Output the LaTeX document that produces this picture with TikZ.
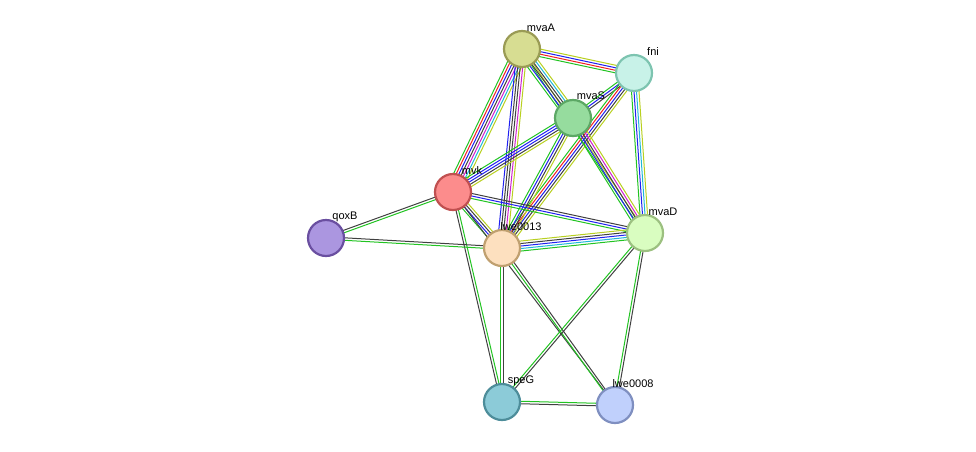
\documentclass[tikz,border=0pt]{standalone}
\usepackage{fontspec}
\setmainfont{Liberation Sans}
\usetikzlibrary{calc,backgrounds}
\definecolor{egreen}{HTML}{22C322}
\definecolor{ered}{HTML}{F02020}
\definecolor{eblue}{HTML}{2020F0}
\definecolor{eblack}{HTML}{404040}
\definecolor{emag}{HTML}{D020D0}
\definecolor{ecyan}{HTML}{20B8D8}
\definecolor{eyel}{HTML}{B8D020}
\definecolor{dmvaA}{HTML}{9A9B55}\definecolor{fmvaA}{HTML}{D7DD92}
\definecolor{dfni}{HTML}{7DC4B0}\definecolor{ffni}{HTML}{C8F2E8}
\definecolor{dmvaS}{HTML}{5CA865}\definecolor{fmvaS}{HTML}{96DC9E}
\definecolor{dmvk}{HTML}{C05050}\definecolor{fmvk}{HTML}{FC8C8C}
\definecolor{dqoxB}{HTML}{6A4FA0}\definecolor{fqoxB}{HTML}{AB96E0}
\definecolor{dlwe13}{HTML}{C0A070}\definecolor{flwe13}{HTML}{FDE0BF}
\definecolor{dmvaD}{HTML}{9CC080}\definecolor{fmvaD}{HTML}{D9FDC0}
\definecolor{dspeG}{HTML}{4D8D9A}\definecolor{fspeG}{HTML}{8CCBD8}
\definecolor{dlwe08}{HTML}{7F8FC0}\definecolor{flwe08}{HTML}{C0D0FC}
\newcommand{\stredge}[3]% from, to, colour list
{\foreach \c [count=\n] in {#3}{\xdef\edgen{\n}}
 \foreach \c [count=\i] in {#3}{
   \pgfmathsetmacro\off{(\i-(\edgen+1)/2)*2.5}
   \draw[\c, line width=1pt] ($(#1)!\off pt!90:(#2)$) -- ($(#2)!\off pt!-90:(#1)$);
 }
}
\tikzset{
  prot/.style={circle, minimum size=36pt, inner sep=0pt, line width=2.2pt, draw=d#1, fill=f#1},
  lbl/.style={font=\fontsize{11}{13}\selectfont, anchor=west, inner sep=0pt}
}
\begin{document}
\begin{tikzpicture}[x=1pt,y=-1pt]
		\useasboundingbox (0,0) rectangle (976,451);
		\node[prot=mvaA, label={[lbl,shift={(19,-21)}]center:mvaA}] (mvaA) at (522,49) {};
		\node[prot=fni, label={[lbl,shift={(19,-21)}]center:fni}] (fni) at (634,73) {};
		\node[prot=mvaS, label={[lbl,shift={(18,-22)}]center:mvaS}] (mvaS) at (573,118) {};
		\node[prot=mvk, label={[lbl,shift={(19,-21)}]center:mvk}] (mvk) at (453,192) {};
		\node[prot=qoxB, label={[lbl,shift={(19,-21)}]center:qoxB}] (qoxB) at (326,238) {};
		\node[prot=lwe13, label={[lbl,shift={(19,-21)}]center:lwe0013}] (lwe0013) at (502,248) {};
		\node[prot=mvaD, label={[lbl,shift={(18,-21)}]center:mvaD}] (mvaD) at (645,233) {};
		\node[prot=speG, label={[lbl,shift={(19,-21)}]center:speG}] (speG) at (502,402) {};
		\node[prot=lwe08, label={[lbl,shift={(18,-21)}]center:lwe0008}] (lwe0008) at (615,405) {};
		\begin{scope}[on background layer]
		\stredge{mvaA}{fni}{egreen,ered,eblue,eyel}
		\stredge{mvaA}{mvaD}{egreen,eyel}
		\stredge{mvaA}{mvaS}{egreen,eblue,eblack,eblack,ecyan,eyel}
		\stredge{mvaA}{mvk}{egreen,ered,eblue,eblack,emag,ecyan,eyel}
		\stredge{mvaA}{lwe0013}{eblue,eblack,eblack,emag,eyel}
		\stredge{fni}{mvaS}{egreen,eblue,eblack}
		\stredge{fni}{lwe0013}{egreen,ered,eblue,eblack,eyel}
		\stredge{fni}{mvaD}{egreen,eblue,ecyan,eyel}
		\stredge{mvaS}{mvk}{egreen,eblue,eblue,eblack,eyel}
		\stredge{mvaS}{lwe0013}{egreen,eblue,eblack,eyel}
		\stredge{mvaS}{mvaD}{egreen,eblue,eblack,emag,eyel}
		\stredge{mvk}{mvaD}{egreen,eblue,eblack}
		\stredge{mvk}{lwe0013}{egreen,eblue,eblack,eyel}
		\stredge{mvk}{qoxB}{eblack,egreen}
		\stredge{mvk}{speG}{eblack,egreen}
		\stredge{mvk}{lwe0008}{eblack}
		\stredge{lwe0013}{mvaD}{egreen,ecyan,eblue,eblack,eyel}
		\stredge{lwe0013}{qoxB}{eblack,egreen}
		\stredge{lwe0013}{speG}{egreen,eblack}
		\stredge{lwe0013}{lwe0008}{egreen,eblack}
		\stredge{mvaD}{speG}{egreen,eblack}
		\stredge{mvaD}{lwe0008}{egreen,eblack}
		\stredge{speG}{lwe0008}{eblack,egreen}
		\end{scope}
\end{tikzpicture}
\end{document}
